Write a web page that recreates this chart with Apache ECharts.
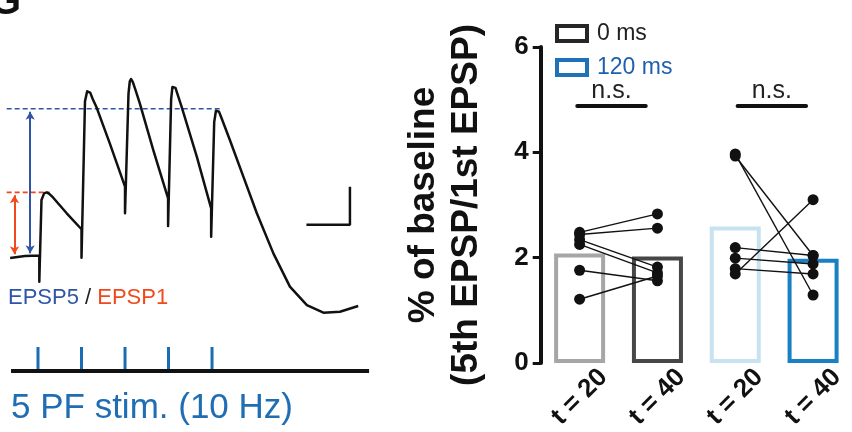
<!DOCTYPE html>
<html>
<head>
<meta charset="utf-8">
<script src="https://cdn.jsdelivr.net/npm/echarts@6/dist/echarts.min.js"></script>
<style>
  html, body { margin: 0; padding: 0; background: #ffffff; }
  #chart { width: 852px; height: 432px; }
</style>
</head>
<body>
<div id="chart"></div>
<script>
// ---- Right panel: EPSP5/EPSP1 ratio, hollow bars of means with paired cells ----
const categories = ['t = 20', 't = 40', 't = 20', 't = 40'];
const barMeans = [2.08, 2.02, 2.59, 1.98];
const barColors = ['#a6a6a6', '#474747', '#c7e2f0', '#1a80c4'];
const yTicks = [0, 2, 4, 6];

// paired cells, delay 0 ms
const t20Delay0 = [2.48, 2.44, 2.34, 2.25, 1.76, 1.21];
const t40Delay0 = [2.83, 2.56, 1.82, 1.71, 1.56, 1.65];
// paired cells, delay 120 ms
const t20Delay120 = [3.97, 3.93, 2.19, 1.99, 1.79, 1.69];
const t40Delay120 = [1.29, 2.04, 2.04, 1.88, 1.69, 3.10];

const legendNames = ['0 ms', '120 ms'];
const nsLevel = 4.875;

// ---- Left panel: example trace (ms, mV) ----
const traceMs = [-64, -30, 3, 3, 8, 14, 20, 26, 35, 66, 100, 100, 108, 113, 116, 120, 126, 135, 165, 200, 200,
  208, 211, 214, 218, 224, 234, 265, 299, 299, 306, 309, 312, 316, 321, 330, 365, 398, 398, 405, 409, 412, 416,
  422, 441, 472, 503, 541, 579, 618, 656, 694, 736];
const traceMv = [-0.05, 0.05, 0.08, -1.3, 3.0, 3.35, 3.4, 3.32, 3.12, 2.3, 1.46, -0.04, 8.2, 8.72, 8.8, 8.65, 8.3, 7.85,
  5.98, 3.7, 2.3, 8.6, 9.25, 9.37, 9.2, 8.8, 8.09, 5.63, 3.09, 1.63, 8.3, 8.95, 9.05, 8.9, 8.55, 7.91, 5.28, 2.56,
  1.07, 7.1, 7.7, 7.8, 7.65, 7.3, 6.16, 4.23, 2.3, 0.19, -1.56, -2.53, -2.93, -2.88, -2.58];
const stimMs = [0, 100, 200, 300, 400];
const epsp1Peak = 3.4;
const epsp5Peak = 7.8;
const scaleBarMs = [617, 717];
const scaleBarMv = [1.7, 3.7];
const stimLineMs = [-62, 761];

const FONT = '"Liberation Sans", Arial, sans-serif';
const BLUE5 = '#2f56a6';
const RED1 = '#f04a1c';
const STIM = '#1c6cb4';

const chart = echarts.init(document.getElementById('chart'), null, { renderer: 'canvas' });

const pairSeries = [];
function addPairs(a, b, xa, xb) {
  a.forEach((v, i) => {
    pairSeries.push({
      type: 'line', xAxisIndex: 1, yAxisIndex: 0, silent: true, z: 4,
      symbol: 'none', lineStyle: { color: '#111', width: 1.4 },
      data: [[xa, v], [xb, b[i]]]
    });
  });
}
addPairs(t20Delay0, t40Delay0, 0, 1);
addPairs(t20Delay120, t40Delay120, 2, 3);

const dots = [];
t20Delay0.forEach(v => dots.push([0, v]));
t40Delay0.forEach(v => dots.push([1, v]));
t20Delay120.forEach(v => dots.push([2, v]));
t40Delay120.forEach(v => dots.push([3, v]));

function barItem(i) {
  return { value: barMeans[i], itemStyle: { borderColor: barColors[i] } };
}

const hollow = 'rgba(255,255,255,0)';

const option = {
  animation: false,
  backgroundColor: '#ffffff',
  textStyle: { fontFamily: FONT },
  legend: {
    orient: 'vertical', left: 550, top: 17, itemGap: 11,
    icon: 'rect', itemWidth: 30, itemHeight: 15, selectedMode: false,
    textStyle: { fontSize: 23, color: '#222', fontFamily: FONT, padding: [0, 0, 0, 5] },
    data: [
      { name: legendNames[0], itemStyle: { color: hollow, borderColor: '#262626', borderWidth: 4 } },
      { name: legendNames[1], itemStyle: { color: hollow, borderColor: '#1f72b8', borderWidth: 4 },
        textStyle: { color: '#1f5fad' } }
    ]
  },
  grid: [
    { left: 540.7, top: 47, width: 318.8, height: 320 },
    { left: 3.2, top: 10, width: 387.2, height: 418 },
    { left: 3.2, top: 347, width: 387.2, height: 24 }
  ],
  xAxis: [
    {
      type: 'category', gridIndex: 0, data: categories,
      axisLine: { show: false }, axisTick: { show: false },
      axisLabel: {
        interval: 0, rotate: 45, align: 'center', verticalAlign: 'middle', margin: 34,
        fontSize: 26, fontWeight: 'bold', color: '#111', fontFamily: FONT
      }
    },
    { type: 'value', gridIndex: 0, min: -0.5, max: 3.5, show: false },
    { type: 'value', gridIndex: 1, min: -80, max: 810, show: false },
    { type: 'value', gridIndex: 2, min: -80, max: 810, show: false }
  ],
  yAxis: [
    {
      type: 'value', gridIndex: 0, min: 0, max: 6, interval: 2,
      axisLine: { show: true, onZero: false, lineStyle: { color: '#111', width: 4 } },
      axisTick: { show: true, length: 8, lineStyle: { color: '#111', width: 3 } },
      splitLine: { show: false },
      axisLabel: {
        margin: 12, fontSize: 26, fontWeight: 'bold', color: '#111', fontFamily: FONT,
        customValues: yTicks
      },
      name: '% of baseline\n(5th EPSP/1st EPSP)',
      nameLocation: 'middle', nameGap: 52,
      nameTextStyle: { fontSize: 37, fontWeight: 'bold', color: '#111', lineHeight: 43, fontFamily: FONT }
    },
    { type: 'value', gridIndex: 1, min: -9, max: 13, show: false },
    { type: 'value', gridIndex: 2, min: 0, max: 1, show: false }
  ],
  graphic: [
    {
      type: 'text', left: -10, top: -17, silent: true,
      style: { text: 'G', font: 'bold 40px ' + FONT, fill: '#111' }
    },
    {
      type: 'text', x: 8, y: 298, silent: true,
      style: {
        text: '{b|EPSP5}{s| / }{r|EPSP1}', font: '22px ' + FONT, verticalAlign: 'middle',
        rich: {
          b: { fill: BLUE5, font: '22px ' + FONT },
          s: { fill: '#222', font: '22px ' + FONT },
          r: { fill: RED1, font: '22px ' + FONT }
        }
      }
    },
    {
      type: 'text', x: 11, y: 408, silent: true,
      style: { text: '5 PF stim. (10 Hz)', font: '35px ' + FONT, fill: '#1f6db3', verticalAlign: 'middle' }
    }
  ],
  series: [
    {
      name: legendNames[0], type: 'bar', xAxisIndex: 0, yAxisIndex: 0,
      barWidth: 51, barGap: '-100%', z: 2,
      itemStyle: { color: hollow, borderColor: '#262626', borderWidth: 4 },
      data: [barItem(0), barItem(1), '-', '-']
    },
    {
      name: legendNames[1], type: 'bar', xAxisIndex: 0, yAxisIndex: 0,
      barWidth: 51, barGap: '-100%', z: 2,
      itemStyle: { color: hollow, borderColor: '#1f72b8', borderWidth: 4 },
      data: ['-', '-', barItem(2), barItem(3)]
    },
    ...pairSeries,
    {
      type: 'scatter', xAxisIndex: 1, yAxisIndex: 0, z: 5, silent: true,
      symbol: 'circle', symbolSize: 11, itemStyle: { color: '#111', opacity: 1 },
      data: dots,
      markLine: {
        silent: true, symbol: 'none',
        lineStyle: { color: '#111', width: 4, type: 'solid', cap: 'round' },
        label: {
          show: true, position: 'middle', formatter: 'n.s.', distance: 3,
          fontSize: 25, color: '#222', fontFamily: FONT
        },
        data: [
          [{ coord: [-0.03, nsLevel] }, { coord: [0.85, nsLevel] }],
          [{ coord: [2.03, nsLevel] }, { coord: [2.91, nsLevel] }]
        ]
      }
    },
    // example voltage trace
    {
      type: 'line', xAxisIndex: 2, yAxisIndex: 1, z: 3, silent: true,
      symbol: 'none', lineStyle: { color: '#111', width: 2.5, join: 'round' },
      data: traceMs.map((t, i) => [t, traceMv[i]]),
      markLine: {
        silent: true, symbol: ['arrow', 'arrow'], symbolSize: [7, 8], label: { show: false },
        data: [
          [{ coord: [-18, 0.2], lineStyle: { color: BLUE5, width: 2, type: 'solid' }, itemStyle: { color: BLUE5 } },
           { coord: [-18, epsp5Peak - 0.15] }],
          [{ coord: [-54, 0.15], lineStyle: { color: RED1, width: 2, type: 'solid' }, itemStyle: { color: RED1 } },
           { coord: [-54, epsp1Peak - 0.15] }]
        ]
      }
    },
    {
      type: 'line', xAxisIndex: 2, yAxisIndex: 1, z: 2, silent: true, symbol: 'none',
      lineStyle: { color: BLUE5, width: 1.6, type: [5, 3] },
      data: [[-72, epsp5Peak], [418, epsp5Peak]]
    },
    {
      type: 'line', xAxisIndex: 2, yAxisIndex: 1, z: 2, silent: true, symbol: 'none',
      lineStyle: { color: RED1, width: 1.6, type: [5, 3] },
      data: [[-72, epsp1Peak], [27, epsp1Peak]]
    },
    // scale bar
    {
      type: 'line', xAxisIndex: 2, yAxisIndex: 1, z: 2, silent: true, symbol: 'none',
      lineStyle: { color: '#111', width: 2.5, cap: 'butt' },
      data: [[scaleBarMs[0], scaleBarMv[0]], [scaleBarMs[1], scaleBarMv[0]], [scaleBarMs[1], scaleBarMv[1]]]
    },
    // stimulus row
    {
      type: 'line', xAxisIndex: 3, yAxisIndex: 2, z: 3, silent: true, symbol: 'none',
      lineStyle: { color: '#111', width: 4 },
      data: [[stimLineMs[0], 0], [stimLineMs[1], 0]]
    },
    {
      type: 'bar', xAxisIndex: 3, yAxisIndex: 2, z: 2, silent: true,
      barWidth: 3, itemStyle: { color: STIM },
      data: stimMs.map(t => [t, 1])
    }
  ]
};

chart.setOption(option);
</script>
</body>
</html>
